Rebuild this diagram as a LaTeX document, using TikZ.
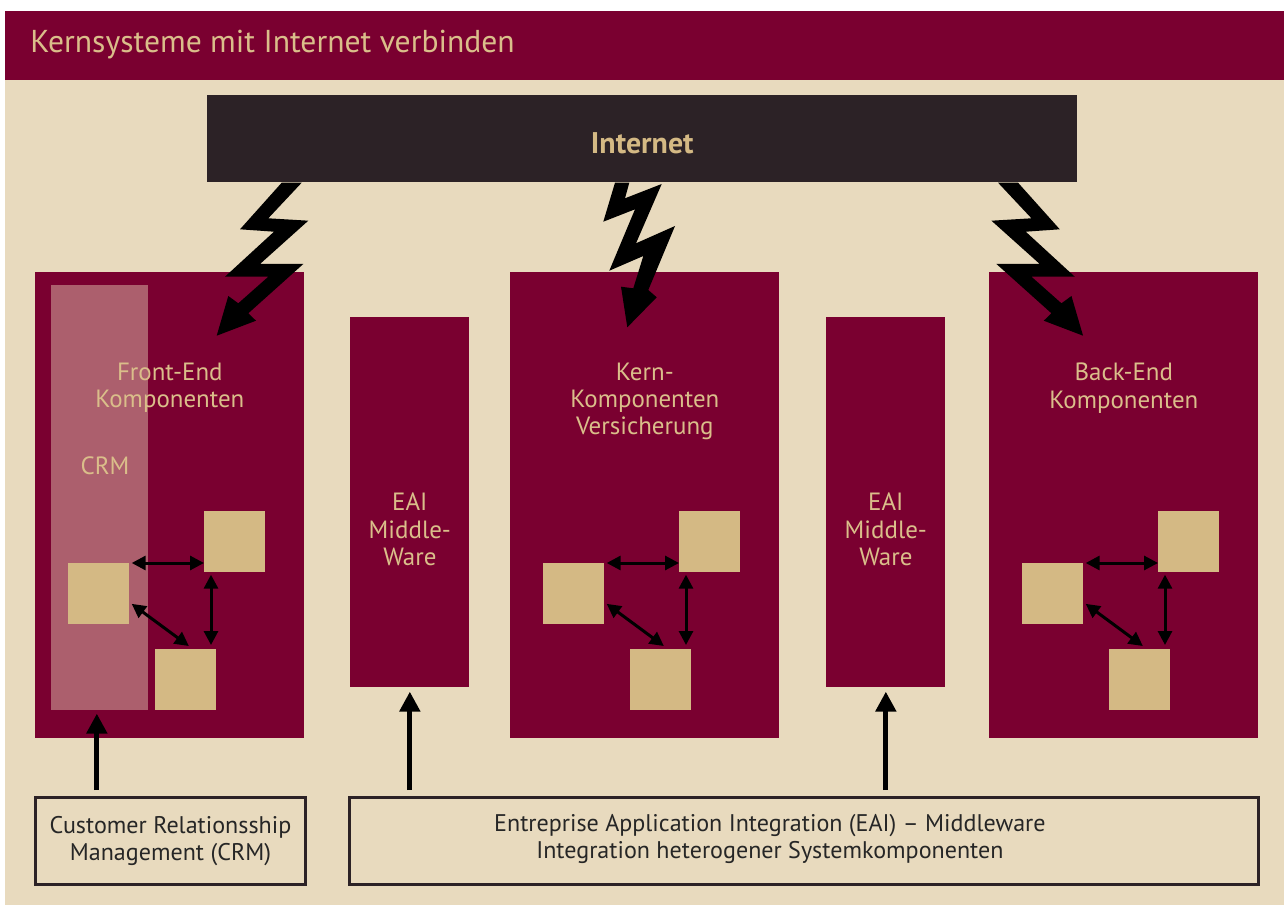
\documentclass[tikz,border=0pt]{standalone}
\usepackage{fontspec}
\setmainfont{PT Sans}
\usetikzlibrary{arrows.meta,calc,positioning}
\definecolor{weinrot}{RGB}{122,0,48}
\definecolor{beige}{RGB}{232,218,190}
\definecolor{dunkel}{RGB}{44,34,38}
\definecolor{sand}{RGB}{212,185,132}
\definecolor{hellsand}{RGB}{218,190,138}
\definecolor{rosa}{RGB}{172,95,109}
\def\komptrio#1{%
  \node[quad] (#1l) at ([shift={(33,291)}]#1.north west) {};
  \node[quad] (#1o) at ([shift={(169,239)}]#1.north west) {};
  \node[quad] (#1u) at ([shift={(120,377)}]#1.north west) {};
  \draw[dpfeil] ($(#1l.north east)+(2,0)$) -- (#1l.north east -| #1o.west);
  \draw[dpfeil] ($(#1o.south west)+(7,2)$) -- ($(#1u.north -| #1o.south west)+(7,-4)$);
  \draw[dpfeil] ($(#1l.east)+(2,10)$) -- ($(#1u.north)+(3,-3)$);
}
\begin{document}
\begin{tikzpicture}[x=0.02cm,y=-0.02cm,
  kbox/.style={fill=weinrot,inner sep=0pt,anchor=north west},
  quad/.style={fill=sand,minimum size=1.22cm,inner sep=0pt,anchor=north west},
  ktext/.style={text=hellsand,align=center,inner sep=0pt,font=\fontsize{14.2}{15.4}\selectfont},
  unten/.style={draw=dunkel,line width=0.06cm,inner sep=0pt,anchor=north west,minimum height=1.74cm},
  btext/.style={text=black!85,align=center,font=\fontsize{13.7}{15.4}\selectfont},
  dpfeil/.style={{Triangle[length=0.28cm,width=0.28cm]}-{Triangle[length=0.28cm,width=0.28cm]},line width=0.06cm},
  hpfeil/.style={-{Triangle[length=0.4cm,width=0.4cm]},line width=0.1cm},
  blitz/.style={fill=black}]
		%%%%% START %%%%%
		\useasboundingbox (0,0) rectangle (1284,905);
		\fill[white] (0,0) rectangle (1284,905);
		\fill[beige] (5,11) rectangle (1284,905);
		\fill[weinrot] (5,11) rectangle (1284,80);
		\node[anchor=west,inner sep=0pt,text=hellsand,font=\fontsize{18}{22}\selectfont] (titel) at (30,45) {Kernsysteme mit Internet verbinden};
		
		\node[fill=dunkel,minimum width=17.4cm,minimum height=1.74cm,inner sep=0pt,anchor=north west,
		  text=sand,font=\bfseries\fontsize{17}{20}\selectfont] (inet) at (207,95) {};
		\node[text=sand,font=\bfseries\fontsize{17}{20}\selectfont] (inettxt) at ($(inet.center)+(0,4)$) {Internet};
		
		% Komponenten
		\node[kbox,minimum width=5.38cm,minimum height=9.32cm] (fe) at (35,272) {};
		\node[kbox,minimum width=2.38cm,minimum height=7.4cm] (eaia) at (350,317) {};
		\node[kbox,minimum width=5.38cm,minimum height=9.32cm] (kern) at (510,272) {};
		\node[kbox,minimum width=2.38cm,minimum height=7.4cm] (eaib) at (826,317) {};
		\node[kbox,minimum width=5.38cm,minimum height=9.32cm] (be) at (989,272) {};
		\node[fill=rosa,minimum width=1.94cm,minimum height=8.5cm,inner sep=0pt,anchor=north west] (crm) at (51,285) {};
		
		\node[ktext,anchor=north] (fetxt) at ([yshift=-1.82cm]fe.north) {Front-End\\Komponenten};
		\node[ktext,anchor=north] (kerntxt) at ([yshift=-1.82cm]kern.north) {Kern-\\Komponenten\\Versicherung};
		\node[ktext,anchor=north] (betxt) at ([yshift=-1.82cm]be.north) {Back-End\\Komponenten};
		\node[ktext] (crmtxt) at (105,466) {CRM};
		\node[ktext] (eaiatxt) at ([yshift=-0.54cm]eaia.center) {EAI\\Middle-\\Ware};
		\node[ktext] (eaibtxt) at ([yshift=-0.54cm]eaib.center) {EAI\\Middle-\\Ware};
		
		\komptrio{fe}
		\komptrio{kern}
		\komptrio{be}
		
		% Blitze
		\fill[blitz] (281.7,182.7) -- (301.7,182.7) -- (268.3,218.3) -- (308.3,220.7) -- (260,264) -- (303.3,264)
		  -- (248.3,313.3) -- (256,320.7) -- (216.7,335.7) -- (228.3,296) -- (238.3,303.3) -- (268.3,276.7)
		  -- (225,276.7) -- (274,231.7) -- (240,229.3) -- cycle;
		\fill[blitz] (615,182.7) -- (629.3,182.7) -- (625,198.3) -- (661.7,184) -- (636,243.3) -- (675,226)
		  -- (648.3,290) -- (656.7,297.3) -- (627.3,327.3) -- (621,286.7) -- (633.3,288.3) -- (643.3,256)
		  -- (609.3,270.7) -- (635,209.3) -- (603.3,221.7) -- cycle;
		\begin{scope}[xshift=26cm,xscale=-1]
		\fill[blitz] (281.7,182.7) -- (301.7,182.7) -- (268.3,218.3) -- (308.3,220.7) -- (260,264) -- (303.3,264)
		  -- (248.3,313.3) -- (256,320.7) -- (216.7,335.7) -- (228.3,296) -- (238.3,303.3) -- (268.3,276.7)
		  -- (225,276.7) -- (274,231.7) -- (240,229.3) -- cycle;
		\end{scope}
		
		% unten
		\node[unten,minimum width=5.4cm,btext] (bcrm) at (34,796) {Customer Relationsship\\Management (CRM)};
		\node[unten,minimum width=18.18cm] (beai) at (348,796) {};
		\node[btext] (beaitxt) at ($(beai.center)+(-34,-2)$) {Entreprise Application Integration (EAI) – Middleware\\Integration heterogener Systemkomponenten};
		
		\draw[hpfeil,shorten <=0.12cm,shorten >=0.06cm] ($(crm.south |- bcrm.north)+(-3,0)$) -- ($(crm.south)+(-3,0)$);
		\draw[hpfeil,shorten <=0.12cm,shorten >=0.08cm] (eaia.south |- beai.north) -- (eaia.south);
		\draw[hpfeil,shorten <=0.12cm,shorten >=0.08cm] (eaib.south |- beai.north) -- (eaib.south);
		%%%%% END %%%%%
\end{tikzpicture}
\end{document}
